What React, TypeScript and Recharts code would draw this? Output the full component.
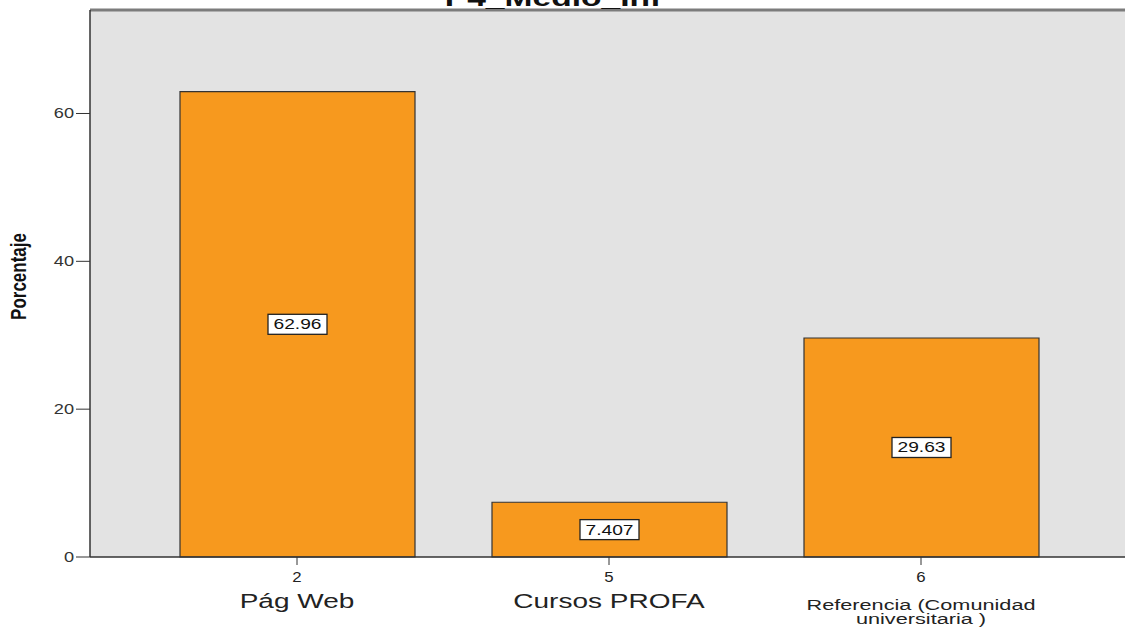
import React from 'react'
import { BarChart, Bar, XAxis, YAxis, CartesianGrid, LabelList, ReferenceLine } from 'recharts'

// P4_Medio_Inf: medio por el que se informó (porcentaje)
const codes = ['2', '5', '6']
const categories = ['Pág Web', 'Cursos PROFA', 'Referencia (Comunidad universitaria )']
const percentages = [62.96, 7.407, 29.63]
const yTicks = [0, 20, 40, 60]

const data = codes.map((code, i) => ({
  code,
  name: categories[i],
  value: percentages[i],
}))

const FONT = '"Liberation Sans", Arial, sans-serif'
// the original export is stretched sideways, so text is widened to match
const SX = 1.4

const SText = ({ x, y, size, sx = SX, anchor = 'middle', bold = false, fill = '#222', children }: any) => (
  <g transform={`translate(${x},${y}) scale(${sx},1)`}>
    <text x={0} y={0} textAnchor={anchor} fontSize={size} fontFamily={FONT} fontWeight={bold ? 'bold' : 'normal'} fill={fill}>
      {children}
    </text>
  </g>
)

// split long category names in two lines at the space after the bracket opens
const splitName = (s: string) => {
  if (s.length <= 20) return [s]
  const cut = s.indexOf(' ', s.indexOf('('))
  return [s.slice(0, cut), s.slice(cut + 1)]
}

const XTick = (props: any) => {
  const { x, y, payload } = props
  const row = data[payload.index]
  const lines = splitName(row.name)
  return (
    <g>
      <SText x={x} y={y + 15} size={14} sx={1.2}>{row.code}</SText>
      {lines.length === 1 ? (
        <SText x={x} y={y + 41} size={20}>{lines[0]}</SText>
      ) : (
        lines.map((l, i) => (
          <SText key={i} x={x} y={y + 43 + i * 14} size={15.5}>{l}</SText>
        ))
      )}
    </g>
  )
}

const YTick = (props: any) => {
  const { x, y, payload } = props
  return <SText x={x} y={y + 5} size={14} sx={1.3} anchor="end" fill="#333">{payload.value}</SText>
}

const YLabel = (props: any) => {
  const { viewBox } = props
  const cy = viewBox.y + viewBox.height / 2 - 7
  return (
    <g transform={`translate(26,${cy}) scale(1.3,1) rotate(-90)`}>
      <text x={0} y={0} textAnchor="middle" fontSize={17} fontWeight="bold" fontFamily={FONT} fill="#111">
        Porcentaje
      </text>
    </g>
  )
}

const BoxLabel = (props: any) => {
  const { x, y, width, height, value } = props
  const cx = x + width / 2
  const cy = y + height / 2
  const txt = String(value)
  let em = 0
  for (const ch of txt) em += ch === '.' ? 0.278 : 0.556
  const w = em * 14 * 1.37 + 11
  return (
    <g>
      <rect x={cx - w / 2} y={cy - 10} width={w} height={20} fill="#fff" stroke="#222" strokeWidth={1.3} />
      <SText x={cx} y={cy + 5} size={14} sx={1.37} fill="#111">{txt}</SText>
    </g>
  )
}

export default function App() {
  return (
    <div style={{ position: 'fixed', left: 0, top: 0, width: 1125, height: 627, overflow: 'hidden', background: '#fff' }}>
      <BarChart width={1125} height={627} data={data} margin={{ top: 10, right: 0, bottom: 0, left: 0 }} barSize={235}>
        <CartesianGrid horizontal={false} vertical={false} fill="#e3e3e3" />
        <ReferenceLine y={74} stroke="#7c7c7c" strokeWidth={3} />
        <XAxis
          dataKey="code"
          height={70}
          padding={{ left: 51, right: 48 }}
          tick={<XTick />}
          tickSize={8}
          tickLine={{ stroke: '#333' }}
          axisLine={{ stroke: '#333', strokeWidth: 1.5 }}
          interval={0}
        />
        <YAxis
          width={90}
          domain={[0, 74]}
          ticks={yTicks}
          tickSize={14}
          tickLine={{ stroke: '#333' }}
          axisLine={{ stroke: '#333', strokeWidth: 1.5 }}
          tick={<YTick />}
          label={<YLabel />}
        />
        <Bar dataKey="value" fill="#f7991e" stroke="#333" strokeWidth={1.2} isAnimationActive={false}>
          <LabelList dataKey="value" content={<BoxLabel />} />
        </Bar>
      </BarChart>
      <svg width={1125} height={20} style={{ position: 'absolute', left: 0, top: 0, zIndex: 2 }}>
        <SText x={553} y={6} size={24} bold fill="#111">P4_Medio_Inf</SText>
      </svg>
    </div>
  )
}
